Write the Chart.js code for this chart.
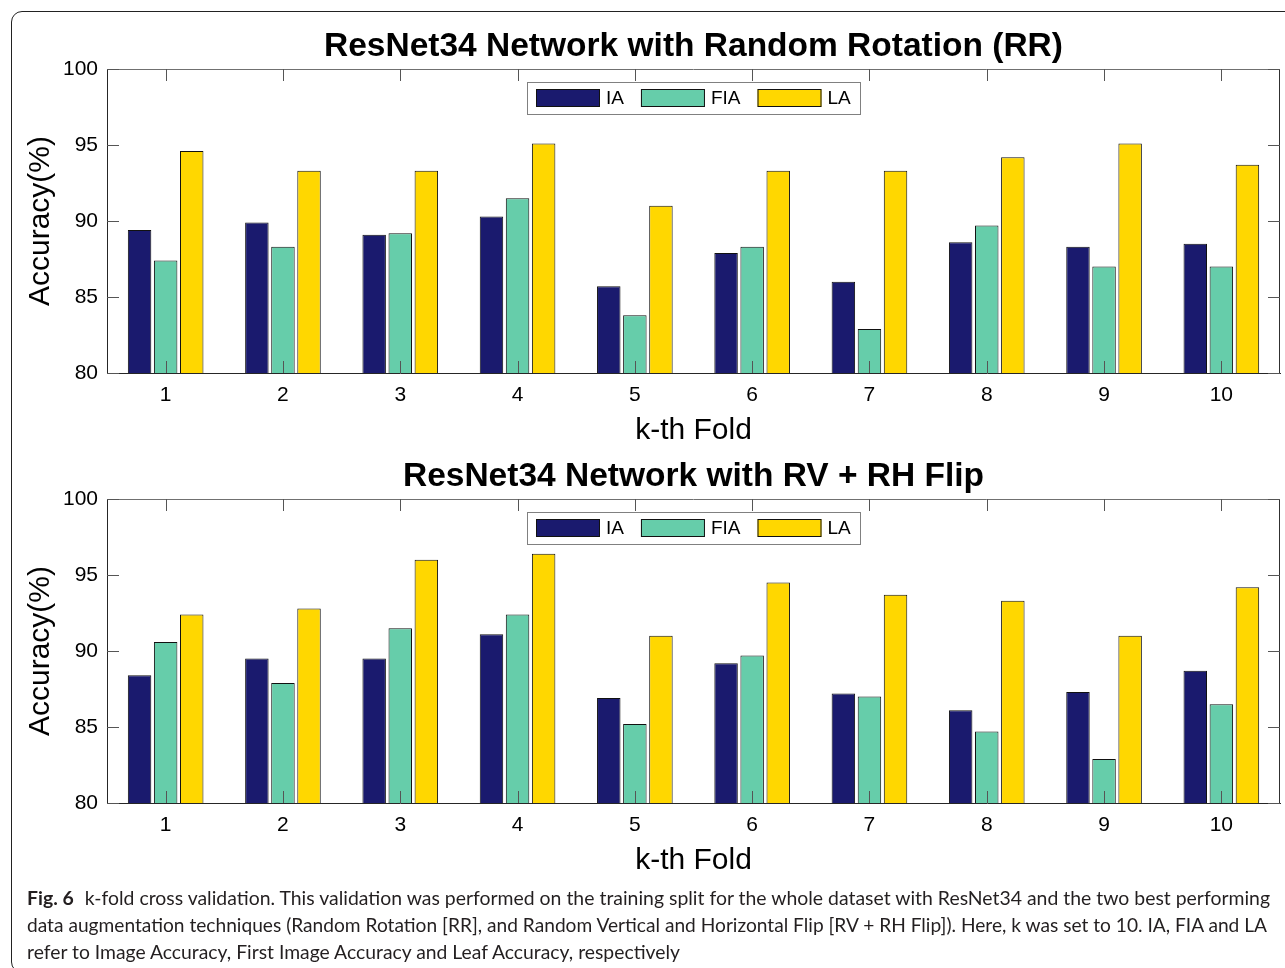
<!DOCTYPE html>
<html>
<head>
<meta charset="utf-8">
<title>k-fold cross validation – ResNet34</title>
<script src="https://cdn.jsdelivr.net/npm/chart.js@4.4.1/dist/chart.umd.min.js"></script>
<style>
  html, body { margin: 0; padding: 0; background: #fff; }
  body { width: 1285px; height: 968px; overflow: hidden; position: relative; }
  .frame {
    position: absolute; left: 11px; top: 11px; width: 1300px; height: 962px;
    border: 1.5px solid #222; border-radius: 11px; box-sizing: border-box;
  }
  canvas.panel { position: absolute; left: 0; }
  #rr { top: 0; }
  #flip { top: 430px; }
  .caption {
    position: absolute; left: 27px; top: 884px;
    font-family: Lato, "Open Sans", "Noto Sans", sans-serif;
    font-size: 19px; line-height: 27px; color: #231f20;
  }
  .caption div { white-space: nowrap; transform-origin: 0 50%; width: max-content; }
  .caption b { font-weight: 700; margin-right: 6px; }
</style>
</head>
<body>
<div class="frame"></div>
<canvas id="rr" class="panel" width="1285" height="450"></canvas>
<canvas id="flip" class="panel" width="1285" height="450"></canvas>
<div class="caption">
  <div data-w="1243"><b>Fig. 6</b> k-fold cross validation. This validation was performed on the training split for the whole dataset with ResNet34 and the two best performing</div>
  <div data-w="1240">data augmentation techniques (Random Rotation [RR], and Random Vertical and Horizontal Flip [RV + RH Flip]). Here, k was set to 10. IA, FIA and LA</div>
  <div data-w="653">refer to Image Accuracy, First Image Accuracy and Leaf Accuracy, respectively</div>
</div>
<script>
// fold numbers on the x axis
const folds = ['1', '2', '3', '4', '5', '6', '7', '8', '9', '10'];
const seriesNames = ['IA', 'FIA', 'LA'];
const seriesColors = ['#1a1a6e', '#66cdaa', '#ffd700'];
const yTicks = [80, 85, 90, 95, 100];

// Random Rotation (RR)
const rrIA  = [89.4, 89.9, 89.1, 90.3, 85.7, 87.9, 86.0, 88.6, 88.3, 88.5];
const rrFIA = [87.4, 88.3, 89.2, 91.5, 83.8, 88.3, 82.9, 89.7, 87.0, 87.0];
const rrLA  = [94.6, 93.3, 93.3, 95.1, 91.0, 93.3, 93.3, 94.2, 95.1, 93.7];

// Random Vertical + Horizontal Flip (RV + RH Flip)
const flipIA  = [88.4, 89.5, 89.5, 91.1, 86.9, 89.2, 87.2, 86.1, 87.3, 88.7];
const flipFIA = [90.6, 87.9, 91.5, 92.4, 85.2, 89.7, 87.0, 84.7, 82.9, 86.5];
const flipLA  = [92.4, 92.8, 96.0, 96.4, 91.0, 94.5, 93.7, 93.3, 91.0, 94.2];

const FONT = '"Liberation Sans", Arial, Helvetica, sans-serif';
Chart.defaults.font.family = FONT;
Chart.defaults.color = '#000';

// closed axes box with inward tick marks on all four sides
const axesBox = {
  id: 'axesBox',
  afterDatasetsDraw(chart) {
    const { ctx, chartArea: a, scales: { x, y } } = chart;
    const len = 12;
    const seg = (x0, y0, x1, y1) => { ctx.beginPath(); ctx.moveTo(x0, y0); ctx.lineTo(x1, y1); ctx.stroke(); };
    ctx.save();
    ctx.lineWidth = 1;
    ctx.strokeStyle = '#707070';
    seg(a.left, a.top + 0.5, a.right, a.top + 0.5);
    ctx.strokeStyle = '#303030';
    seg(a.right - 0.5, a.top, a.right - 0.5, a.bottom);
    ctx.strokeStyle = '#555';
    x.ticks.forEach((t, i) => {
      const px = Math.round(x.getPixelForTick(i)) + 0.5;
      seg(px, a.bottom, px, a.bottom - len);
      seg(px, a.top, px, a.top + len);
    });
    y.ticks.forEach((t, i) => {
      const py = Math.round(y.getPixelForTick(i)) + 0.5;
      seg(a.left, py, a.left + len, py);
      seg(a.right, py, a.right - len, py);
    });
    ctx.restore();
  }
};

// boxed horizontal legend at the top centre of the plot area
const boxedLegend = {
  id: 'boxedLegend',
  afterDraw(chart) {
    const { ctx, chartArea: a } = chart;
    const sw = 64, sh = 18, textGap = 6, itemGap = 17, padX = 9;
    ctx.save();
    ctx.font = '19px ' + FONT;
    const items = chart.data.datasets.map(ds => ({
      text: ds.label, fill: ds.backgroundColor, stroke: ds.borderColor,
      w: ctx.measureText(ds.label).width
    }));
    const inner = items.reduce((s, it) => s + sw + textGap + it.w, 0) + itemGap * (items.length - 1);
    const boxW = inner + padX * 2;
    const boxL = Math.round((a.left + a.right) / 2 - boxW / 2);
    const boxT = a.top + 13;
    const boxH = 32;
    ctx.fillStyle = '#fff';
    ctx.fillRect(boxL, boxT, boxW, boxH);
    ctx.strokeStyle = '#808080';
    ctx.lineWidth = 1;
    ctx.strokeRect(boxL + 0.5, boxT + 0.5, Math.round(boxW), boxH);
    let x = boxL + padX;
    const sy = boxT + 7;
    ctx.textBaseline = 'middle';
    ctx.textAlign = 'left';
    items.forEach(it => {
      ctx.fillStyle = it.fill;
      ctx.fillRect(x, sy, sw, sh);
      ctx.strokeStyle = it.stroke;
      ctx.strokeRect(x + 0.5, sy + 0.5, sw - 1, sh - 1);
      ctx.fillStyle = '#000';
      ctx.fillText(it.text, x + sw + textGap, sy + sh / 2 + 1);
      x += sw + textGap + it.w + itemGap;
    });
    ctx.restore();
  }
};

function foldChart(canvasId, titleText, ia, fia, la) {
  const series = [ia, fia, la];
  return new Chart(document.getElementById(canvasId), {
    type: 'bar',
    data: {
      labels: folds,
      datasets: series.map((values, i) => ({
        label: seriesNames[i],
        data: values,
        backgroundColor: seriesColors[i],
        borderColor: '#111',
        borderWidth: 1
      }))
    },
    options: {
      responsive: false,
      animation: false,
      events: [],
      layout: { padding: { left: 0, right: 5, top: 0, bottom: 0 } },
      datasets: { bar: { categoryPercentage: 0.667, barPercentage: 0.9 } },
      plugins: {
        title: {
          display: true, text: titleText, fullSize: false, color: '#000',
          font: { size: 33.5, weight: 'bold', lineHeight: 1.2 },
          padding: { top: 27, bottom: 1.8 }
        },
        legend: { display: false },
        tooltip: { enabled: false }
      },
      scales: {
        x: {
          grid: { display: false, drawTicks: false },
          border: { display: true, color: '#262626', width: 1 },
          ticks: { padding: 10, color: '#000', font: { size: 21 } },
          title: { display: true, text: 'k-th Fold', color: '#000', font: { size: 30, lineHeight: 1.2 }, padding: { top: 0, bottom: 1 } },
          afterFit(scale) { scale.height = 77; }
        },
        y: {
          min: yTicks[0],
          max: yTicks[yTicks.length - 1],
          afterBuildTicks(scale) { scale.ticks = yTicks.map(v => ({ value: v })); },
          grid: { display: false, drawTicks: false },
          border: { display: true, color: '#262626', width: 1 },
          ticks: { padding: 9, color: '#000', font: { size: 21 } },
          title: { display: true, text: 'Accuracy(%)', color: '#000', font: { size: 30, lineHeight: 1.2 }, padding: { top: 23, bottom: 0 } },
          afterFit(scale) { scale.width = 107; }
        }
      }
    },
    plugins: [axesBox, boxedLegend]
  });
}

foldChart('rr', 'ResNet34 Network with Random Rotation (RR)', rrIA, rrFIA, rrLA);
foldChart('flip', 'ResNet34 Network with RV + RH Flip', flipIA, flipFIA, flipLA);

// set each caption line to its column width
document.querySelectorAll('.caption div').forEach(line => {
  const target = Number(line.dataset.w);
  const w = line.getBoundingClientRect().width;
  if (w > 0) line.style.transform = 'scaleX(' + (target / w).toFixed(4) + ')';
});
</script>
</body>
</html>
